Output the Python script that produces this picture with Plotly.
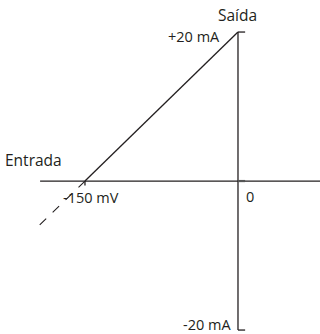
import plotly.graph_objects as go

# Transfer characteristic: input voltage (mV) -> output current (mA)
input_mv = [-150, 0]
output_ma = [0, 20]

# Extrapolated part of the characteristic below the input threshold
extension_mv = [-150, -196]
extension_ma = [0, -6.1]

# Axis extents and tick values
x_axis_span = [-194, 82]
y_axis_span = [-20, 20]
x_tick_values = [-150, 0]
y_tick_values = [20, -20]

labels_x = {"in_low": "-150 mV", "zero": "0"}
labels_y = {"high": "+20 mA", "low": "-20 mA"}
axis_titles = {"x": "Entrada", "y": "Saída"}

ink = "#231f20"
family = "Open Sans, Noto Sans, sans-serif"
font = dict(family=family, size=14.5, color=ink)
title_font = dict(family=family, size=15.5, color=ink)

fig = go.Figure()

# Horizontal (input) axis
fig.add_trace(go.Scatter(x=x_axis_span, y=[0, 0], mode="lines",
                         line=dict(color=ink, width=1.3), hoverinfo="skip"))
# Vertical (output) axis
fig.add_trace(go.Scatter(x=[0, 0], y=y_axis_span, mode="lines",
                         line=dict(color=ink, width=1.3), hoverinfo="skip"))
# End ticks on the output axis
for yv in y_tick_values:
    fig.add_trace(go.Scatter(x=[0, 7], y=[yv, yv], mode="lines",
                             line=dict(color=ink, width=1.3), hoverinfo="skip"))
# Ticks on the input axis
fig.add_trace(go.Scatter(x=[x_tick_values[0], x_tick_values[0]], y=[0, -0.6], mode="lines",
                         line=dict(color=ink, width=1.3), hoverinfo="skip"))
fig.add_trace(go.Scatter(x=[x_tick_values[1], 7], y=[0, 0], mode="lines",
                         line=dict(color="#555", width=2.2), hoverinfo="skip"))

# Characteristic line
fig.add_trace(go.Scatter(x=input_mv, y=output_ma, mode="lines",
                         line=dict(color=ink, width=1.3), hoverinfo="skip"))
# Dashed extrapolation
fig.add_trace(go.Scatter(x=extension_mv, y=extension_ma, mode="lines",
                         line=dict(color=ink, width=1.1, dash="dash"), hoverinfo="skip"))

annotations = [
    dict(x=0, y=20, text=axis_titles["y"], xanchor="center", yanchor="bottom",
         yshift=4, font=title_font),
    dict(x=0, y=20, text=labels_y["high"], xanchor="right", yanchor="middle",
         xshift=-16, yshift=-4, font=font),
    dict(x=0, y=-20, text=labels_y["low"], xanchor="right", yanchor="bottom",
         xshift=-5, yshift=-6, font=font),
    dict(x=-194, y=0, text=axis_titles["x"], xanchor="left", yanchor="middle",
         xshift=-37, yshift=21, font=title_font),
    dict(x=x_tick_values[0], y=0, text=labels_x["in_low"], xanchor="left", yanchor="middle",
         xshift=-24, yshift=-16, font=font),
    dict(x=x_tick_values[1], y=0, text=labels_x["zero"], xanchor="left", yanchor="middle",
         xshift=6, yshift=-15, font=font),
]
for a in annotations:
    a.update(xref="x", yref="y", showarrow=False)

fig.update_layout(
    width=320, height=334,
    margin=dict(l=0, r=0, t=0, b=0),
    paper_bgcolor="white", plot_bgcolor="white",
    showlegend=False,
    annotations=annotations,
    xaxis=dict(range=[-233.3, 80.4], visible=False, fixedrange=True),
    yaxis=dict(range=[-20.53, 24.3], visible=False, fixedrange=True),
)

fig.write_html("out.html", config={"displayModeBar": False})
